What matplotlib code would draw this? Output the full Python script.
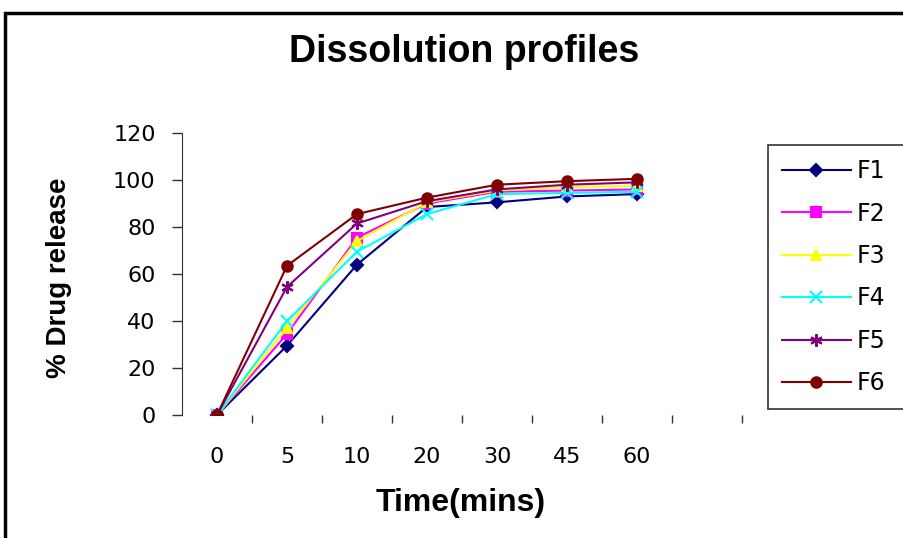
import matplotlib
matplotlib.use("Agg")
import matplotlib.pyplot as plt
from matplotlib.patches import Rectangle

plt.rcParams['font.family'] = ['Liberation Sans', 'DejaVu Sans']

times = ["0", "5", "10", "20", "30", "45", "60"]
F1 = [0, 29.5, 64, 88.5, 90.5, 93, 94]
F2 = [0, 34.5, 75.5, 90, 95, 95.5, 96]
F3 = [0, 37, 74, 90.5, 95.5, 97, 97.5]
F4 = [0, 40, 69.5, 85.5, 94, 94.5, 95]
F5 = [0, 54.5, 81.5, 91, 96, 98, 99]
F6 = [0, 63.5, 85.5, 92.5, 98, 99.5, 100.5]
series_names = ["F1", "F2", "F3", "F4", "F5", "F6"]
series = [F1, F2, F3, F4, F5, F6]
colors = ["#000080", "#FF00FF", "#FFFF00", "#00FFFF", "#800080", "#800000"]
markers = ["D", "s", "^", "x", (6, 2, 0), "o"]
msizes = [6.5, 7, 7.5, 8, 9, 7.5]

tick_font = ['DejaVu Sans']

fig = plt.figure(figsize=(9.04, 5.38), dpi=100)
ax = fig.add_axes([182/904, 1-415/538, (742-182)/904, (415-133)/538])

x = list(range(len(times)))
for name, vals, c, m, ms in zip(series_names, series, colors, markers, msizes):
    ax.plot(x, vals, color=c, marker=m, markersize=ms, linewidth=1.5,
            markeredgecolor=c, markerfacecolor=c, markeredgewidth=1.5, label=name)

ax.set_xlim(-0.5, 7.5)
ax.set_ylim(0, 120)
ax.set_yticks(range(0, 121, 20))
ax.set_yticklabels([str(v) for v in range(0, 121, 20)], fontsize=16, family=tick_font)
ax.set_xticks([i + 0.5 for i in range(8)])
ax.set_xticklabels([])
ax.set_xticks(x, minor=True)
ax.set_xticklabels(times, minor=True, fontsize=16, family=tick_font)
ax.tick_params(axis='x', which='minor', length=0, pad=23)
ax.tick_params(axis='x', which='major', length=6, width=1, direction='out', color='#333333')
ax.tick_params(axis='y', length=7, width=1, pad=12, color='#333333')
for s in ['top', 'right', 'bottom']:
    ax.spines[s].set_visible(False)
ax.spines['left'].set_color('#333333')

fig.text(461/904, 1-503/538, "Time(mins)", ha='center', va='center',
         fontsize=23, fontweight='bold')
fig.text(59/904, 1-278/538, "% Drug release", ha='center', va='center',
         rotation=90, fontsize=20, fontweight='bold')

fig.text(464/904, 1-52/538, "Dissolution profiles", ha='center', va='center',
         fontsize=27, fontweight='bold')

leg = fig.legend(loc='upper left', bbox_to_anchor=(768/904, 1-400/538, 150/904, 255/538),
                 mode='expand', prop={'family': tick_font, 'size': 17},
                 frameon=True, fancybox=False, edgecolor='black',
                 handlelength=2.9, labelspacing=0.78, borderpad=0.6, handletextpad=0.25,
                 borderaxespad=0)
leg.get_frame().set_linewidth(1.2)

fig.patches.append(Rectangle((5/904, -0.1), 1.2, 1 - 13/538 + 0.1, transform=fig.transFigure,
                             fill=False, edgecolor='black', linewidth=2.5))

fig.savefig("out.png", dpi=100)
